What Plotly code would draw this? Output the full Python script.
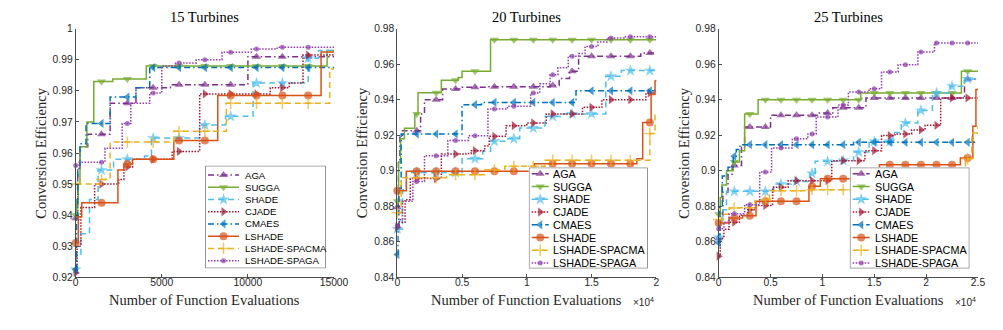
import numpy as np
import plotly.graph_objects as go

W, H = 1003, 330

NAMES = ["AGA", "SUGGA", "SHADE", "CJADE", "CMAES", "LSHADE",
         "LSHADE-SPACMA", "LSHADE-SPAGA"]

# ---- 15 turbines: step breakpoints (function evaluations, efficiency)
T15_AGA = [(0, 0.939), (120, 0.955), (250, 0.962), (700, 0.966), (2000, 0.976),
           (3500, 0.981), (5500, 0.982), (10000, 0.991), (15000, 0.991)]
T15_SUGGA = [(0, 0.940), (60, 0.945), (150, 0.950), (250, 0.962), (650, 0.970),
             (1050, 0.983), (2150, 0.9838), (4100, 0.988), (14450, 0.988),
             (14600, 0.993), (15000, 0.993)]
T15_SHADE = [(0, 0.9225), (50, 0.927), (300, 0.934), (800, 0.945), (1300, 0.9545),
             (2200, 0.958), (4000, 0.959), (4400, 0.9648), (7200, 0.969),
             (8700, 0.9718), (10300, 0.9825), (13500, 0.9905), (14100, 0.993),
             (15000, 0.993)]
T15_CJADE = [(0, 0.9215), (80, 0.930), (300, 0.9425), (1100, 0.950), (2500, 0.9515),
             (2800, 0.9555), (3300, 0.958), (5600, 0.9605), (7200, 0.979),
             (11300, 0.981), (12400, 0.9825), (13200, 0.9915), (15000, 0.9915)]
T15_CMAES = [(0, 0.9225), (50, 0.940), (120, 0.955), (250, 0.963), (600, 0.9695),
             (2000, 0.978), (3500, 0.981), (4300, 0.9875), (15000, 0.9875)]
T15_LSHADE = [(0, 0.931), (150, 0.9395), (350, 0.944), (2450, 0.9545),
              (2800, 0.9565), (3300, 0.958), (5700, 0.964), (8250, 0.9785),
              (14250, 0.9925), (15000, 0.9928)]
T15_SPACMA = [(0, 0.950), (1500, 0.9515), (2000, 0.9635), (5700, 0.967),
              (8750, 0.976), (14750, 0.987), (15000, 0.987)]
T15_SPAGA = [(0, 0.956), (200, 0.957), (1700, 0.9615), (2700, 0.9695),
             (3200, 0.976), (4300, 0.9793), (5000, 0.988), (5800, 0.989),
             (7000, 0.990), (8500, 0.9924), (10200, 0.9935), (11700, 0.994),
             (15000, 0.994)]

# ---- 20 turbines
T20_AGA = [(0, 0.8794), (80, 0.905), (200, 0.920), (400, 0.9226), (1800, 0.932),
           (2100, 0.940), (3500, 0.946), (5000, 0.947), (7000, 0.9473),
           (11800, 0.948), (12500, 0.952), (13300, 0.956), (14000, 0.9645),
           (18800, 0.9663), (20000, 0.9663)]
T20_SUGGA = [(0, 0.8828), (100, 0.905), (250, 0.918), (550, 0.924), (1350, 0.932),
             (1600, 0.944), (3400, 0.951), (4700, 0.9525), (5000, 0.956),
             (7200, 0.9738), (20000, 0.9738)]
T20_SHADE = [(0, 0.8672), (400, 0.8893), (700, 0.899), (5000, 0.9068),
             (6600, 0.911), (7200, 0.9166), (8400, 0.918), (9450, 0.9241),
             (11400, 0.9306), (12600, 0.932), (16100, 0.9532), (17300, 0.9564),
             (20000, 0.9564)]
T20_CJADE = [(0, 0.8683), (150, 0.871), (600, 0.8837), (1000, 0.8956),
             (3400, 0.9094), (5300, 0.9097), (5700, 0.9113), (6750, 0.914),
             (7100, 0.9194), (8400, 0.9254), (10000, 0.9269), (11500, 0.932),
             (14300, 0.9357), (15800, 0.940), (19200, 0.9438), (20000, 0.9438)]
T20_CMAES = [(0, 0.8528), (50, 0.870), (120, 0.890), (300, 0.9207), (5000, 0.9372),
             (6500, 0.9385), (13800, 0.945), (20000, 0.945)]
T20_LSHADE = [(0, 0.8888), (700, 0.8997), (10600, 0.904), (18500, 0.9067),
              (18950, 0.9272), (19600, 0.943), (19900, 0.9505), (20000, 0.9513)]
T20_SPACMA = [(0, 0.8763), (300, 0.896), (3800, 0.8978), (6750, 0.9006),
              (8300, 0.9025), (11400, 0.9059), (19500, 0.921), (19900, 0.932),
              (20000, 0.932)]
T20_SPAGA = [(0, 0.8687), (150, 0.8724), (400, 0.8828), (1200, 0.894),
             (2100, 0.9085), (3900, 0.9171), (5500, 0.9197), (7000, 0.9348),
             (8500, 0.9363), (10300, 0.9438), (11000, 0.949), (11800, 0.954),
             (12400, 0.958), (13200, 0.9645), (14000, 0.966), (14500, 0.970),
             (15500, 0.9725), (16200, 0.9748), (17500, 0.9755), (20000, 0.9755)]

# ---- 25 turbines
T25_AGA = [(0, 0.862), (150, 0.875), (400, 0.888), (900, 0.898), (1300, 0.903),
           (2200, 0.9132), (2500, 0.9246), (5000, 0.9312), (9700, 0.9325),
           (11000, 0.9355), (14200, 0.941), (23700, 0.9515), (25000, 0.9515)]
T25_SUGGA = [(0, 0.8755), (150, 0.885), (300, 0.892), (750, 0.900), (1400, 0.905),
             (2000, 0.9113), (2500, 0.932), (3800, 0.940), (13700, 0.9438),
             (23400, 0.956), (25000, 0.956)]
T25_SHADE = [(0, 0.8625), (150, 0.870), (400, 0.878), (750, 0.8884), (5300, 0.8925),
             (7000, 0.894), (8800, 0.8985), (9300, 0.9053), (12000, 0.9058),
             (13000, 0.9105), (14500, 0.9165), (16800, 0.9215), (17600, 0.9269),
             (19200, 0.934), (20600, 0.9438), (22300, 0.9476), (23700, 0.9517),
             (25000, 0.9517)]
T25_CJADE = [(0, 0.8519), (150, 0.862), (500, 0.867), (1000, 0.871), (2000, 0.875),
             (2800, 0.878), (3500, 0.8804), (5200, 0.8907), (6700, 0.8944),
             (10900, 0.9057), (14100, 0.9113), (15700, 0.9198), (17000, 0.9207),
             (18600, 0.923), (19900, 0.9256), (21400, 0.941), (25000, 0.941)]
T25_CMAES = [(0, 0.8594), (100, 0.880), (350, 0.897), (900, 0.902), (1400, 0.9082),
             (1700, 0.912), (2050, 0.9147), (13000, 0.916), (25000, 0.916)]
T25_LSHADE = [(0, 0.8706), (1000, 0.8734), (2300, 0.8747), (3600, 0.8828),
              (8700, 0.8913), (9800, 0.8955), (15500, 0.9034), (23300, 0.9072),
              (24500, 0.925), (24800, 0.9457), (25000, 0.9457)]
T25_SPACMA = [(0, 0.8725), (300, 0.8755), (1000, 0.879), (2000, 0.8792),
              (3500, 0.8837), (4900, 0.8888), (9000, 0.8893), (23800, 0.9067),
              (24400, 0.9213), (25000, 0.925)]
T25_SPAGA = [(0, 0.8674), (500, 0.871), (1000, 0.8758), (2500, 0.8809),
             (3950, 0.8993), (5100, 0.9128), (7100, 0.918), (8600, 0.9207),
             (9400, 0.9303), (11500, 0.937), (12500, 0.9443), (14500, 0.9462),
             (15700, 0.9556), (17300, 0.9597), (19200, 0.9669), (20800, 0.9719),
             (25000, 0.9719)]

TITLES = ["15 Turbines", "20 Turbines", "25 Turbines"]
X_MAX = [15000, 20000, 25000]
MARK_EVERY = 1500
X_TICKS = [[0, 5000, 10000, 15000],
           [0, 5000, 10000, 15000, 20000],
           [0, 5000, 10000, 15000, 20000, 25000]]
X_TICKTEXT = [["0", "5000", "10000", "15000"],
              ["0", "0.5", "1", "1.5", "2"],
              ["0", "0.5", "1", "1.5", "2", "2.5"]]
Y_RANGE = [(0.92, 1.0), (0.84, 0.98), (0.84, 0.98)]
Y_DTICK = [0.01, 0.02, 0.02]

SERIES = [
    [T15_AGA, T15_SUGGA, T15_SHADE, T15_CJADE, T15_CMAES, T15_LSHADE, T15_SPACMA, T15_SPAGA],
    [T20_AGA, T20_SUGGA, T20_SHADE, T20_CJADE, T20_CMAES, T20_LSHADE, T20_SPACMA, T20_SPAGA],
    [T25_AGA, T25_SUGGA, T25_SHADE, T25_CJADE, T25_CMAES, T25_LSHADE, T25_SPACMA, T25_SPAGA],
]

DASH = "6px,4px"
DASHDOT = "6px,3px,1.5px,3px"
DOT = "1.5px,1.5px"
STYLE = {
    "AGA": dict(color="#7E2F8E", dash=DASHDOT, symbol="triangle-up", size=8),
    "SUGGA": dict(color="#77AC30", dash="solid", symbol="triangle-down", size=8),
    "SHADE": dict(color="#4DBEEE", dash=DASH, symbol="star", size=9),
    "CJADE": dict(color="#A2142F", dash=DOT, symbol="triangle-right", size=8),
    "CMAES": dict(color="#0072BD", dash=DASHDOT, symbol="triangle-left", size=8),
    "LSHADE": dict(color="#D95319", dash="solid", symbol="circle", size=8),
    "LSHADE-SPACMA": dict(color="#EDB120", dash=DASH, symbol="cross-thin", size=8),
    "LSHADE-SPAGA": dict(color="#8E3CAE", dash=DOT, symbol="circle", size=5),
}

# plot area in pixels: (left, right) per panel, shared top/bottom
PANEL_X = [(67.7, 326.0), (389.3, 648.3), (710.7, 970.0)]
PLOT_TOP, PLOT_BOTTOM = 20.7, 269.3
# legend boxes: left, top, width, height, sample start/end, text offset, row0, row gap, font
LEGENDS = [
    dict(x=197, y=157.5, w=121, h=103, s0=3, s1=34, tx=38, r0=9.5, dr=12.24, fs=9.6),
    dict(x=520.7, y=159.3, w=119.3, h=101.4, s0=3, s1=20, tx=22.5, r0=6.5, dr=12.76, fs=10.8),
    dict(x=841.7, y=159.3, w=120, h=101.4, s0=3, s1=20, tx=23.3, r0=6.5, dr=12.76, fs=10.8),
]

AXIS_COLOR = "#4d4d4d"
TEXT_COLOR = "#262626"
SERIF = "Liberation Serif"
SANS = "Liberation Sans"


def px_x(v):
    return v / W


def px_y(v):
    return 1 - v / H


def step_points(points, xmax):
    xs = np.array([p[0] for p in points], dtype=float)
    ys = np.array([p[1] for p in points], dtype=float)
    marks = np.arange(0, xmax, MARK_EVERY, dtype=float)
    allx = np.union1d(xs, marks)
    idx = np.searchsorted(xs, allx, side="right") - 1
    return allx, ys[idx], np.isin(allx, marks)


def marker_dict(st, sizes):
    m = dict(symbol=st["symbol"], size=sizes, color=st["color"])
    if st["symbol"] == "cross-thin":
        m["line"] = dict(color=st["color"], width=1.5)
    else:
        m["line"] = dict(width=0)
    return m


fig = go.Figure()
annotations = []
layout = {}

for p in range(3):
    ax = "" if p == 0 else str(p + 1)
    for name, pts in zip(NAMES, SERIES[p]):
        st = STYLE[name]
        x, y, is_mark = step_points(pts, X_MAX[p])
        sizes = np.where(is_mark, st["size"], 0)
        fig.add_trace(go.Scatter(
            x=x, y=y, mode="lines+markers", line_shape="hv",
            line=dict(color=st["color"], width=1.5, dash=st["dash"]),
            marker=marker_dict(st, sizes), cliponaxis=False,
            showlegend=False, name=name, xaxis="x" + ax, yaxis="y" + ax,
        ))

    x0, x1 = PANEL_X[p]
    layout["xaxis" + ax] = dict(
        domain=[px_x(x0), px_x(x1)], range=[0, X_MAX[p]], anchor="y" + ax,
        tickvals=X_TICKS[p], ticktext=X_TICKTEXT[p], ticks="inside", ticklen=3,
        tickcolor=AXIS_COLOR, showline=True, linecolor=AXIS_COLOR, linewidth=1,
        showgrid=False, zeroline=False, automargin=False, ticklabelstandoff=-5,
        tickfont=dict(family=SANS, size=10.3, color=TEXT_COLOR),
    )
    layout["yaxis" + ax] = dict(
        domain=[px_y(PLOT_BOTTOM), px_y(PLOT_TOP)], range=list(Y_RANGE[p]),
        anchor="x" + ax, dtick=Y_DTICK[p], tick0=Y_RANGE[p][0], ticks="inside",
        ticklen=3, tickcolor=AXIS_COLOR, showline=True, linecolor=AXIS_COLOR,
        linewidth=1, showgrid=False, zeroline=False, automargin=False,
        tickfont=dict(family=SANS, size=10.3, color=TEXT_COLOR),
    )
    cx = (x0 + x1) / 2
    annotations.append(dict(
        text=TITLES[p], x=px_x(cx), y=px_y(9), xref="paper", yref="paper",
        showarrow=False, xanchor="center", yanchor="middle",
        font=dict(family=SERIF, size=14.5, color="black")))
    annotations.append(dict(
        text="Number of Function Evaluations", x=px_x(cx), y=px_y(292),
        xref="paper", yref="paper", showarrow=False, xanchor="center",
        yanchor="middle", font=dict(family=SERIF, size=14.5, color=TEXT_COLOR)))
    annotations.append(dict(
        text="Conversion Efficiency", x=px_x(x0 - 35), y=px_y((PLOT_TOP + PLOT_BOTTOM) / 2),
        xref="paper", yref="paper", showarrow=False, textangle=-90,
        xanchor="center", yanchor="middle",
        font=dict(family=SERIF, size=14.5, color=TEXT_COLOR)))
    if p > 0:
        annotations.append(dict(
            text="\u00d710<sup>4</sup>", x=px_x(x1), y=px_y(294), xref="paper",
            yref="paper", showarrow=False, xanchor="right", yanchor="middle",
            font=dict(family=SANS, size=10, color=TEXT_COLOR)))

    # legend drawn on its own overlay axes
    lg = LEGENDS[p]
    la = str(p + 4)
    layout["xaxis" + la] = dict(
        domain=[px_x(lg["x"]), px_x(lg["x"] + lg["w"])], range=[0, lg["w"]],
        anchor="y" + la, visible=False, fixedrange=True)
    layout["yaxis" + la] = dict(
        domain=[px_y(lg["y"] + lg["h"]), px_y(lg["y"])], range=[lg["h"], 0],
        anchor="x" + la, visible=False, fixedrange=True)
    fig.add_trace(go.Scatter(
        x=[0.5, lg["w"] - 0.5, lg["w"] - 0.5, 0.5, 0.5],
        y=[0.5, 0.5, lg["h"] - 0.5, lg["h"] - 0.5, 0.5],
        mode="lines", fill="toself", fillcolor="white",
        line=dict(color="#7a7a7a", width=0.8), hoverinfo="skip",
        showlegend=False, xaxis="x" + la, yaxis="y" + la))
    for i, name in enumerate(NAMES):
        st = STYLE[name]
        ry = lg["r0"] + lg["dr"] * i
        mid = (lg["s0"] + lg["s1"]) / 2
        fig.add_trace(go.Scatter(
            x=[lg["s0"], mid, lg["s1"]], y=[ry, ry, ry], mode="lines+markers",
            line=dict(color=st["color"], width=1.5, dash=st["dash"]),
            marker=marker_dict(st, [0, st["size"], 0]), hoverinfo="skip",
            showlegend=False, xaxis="x" + la, yaxis="y" + la))
        annotations.append(dict(
            text=name, x=lg["tx"], y=ry, xref="x" + la, yref="y" + la,
            showarrow=False, xanchor="left", yanchor="middle",
            font=dict(family=SANS, size=lg["fs"], color="black")))

fig.update_layout(
    width=W, height=H, margin=dict(l=0, r=0, t=0, b=0),
    paper_bgcolor="white", plot_bgcolor="white",
    showlegend=False, annotations=annotations, **layout,
)

fig.write_html("out.html")
